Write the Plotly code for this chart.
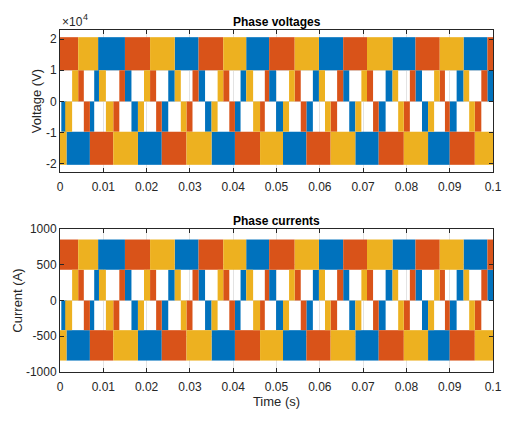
import plotly.graph_objects as go
from plotly.subplots import make_subplots

# phase a = blue, b = orange, c = yellow (MATLAB default order)
colors = {'a': '#0072BD', 'b': '#D95319', 'c': '#EDB120'}

# band edges in seconds
top_edges = [0, 0.0042, 0.0088, 0.0150, 0.0208, 0.0265, 0.0320, 0.0377, 0.0430, 0.0483,
             0.0542, 0.0598, 0.0654, 0.0709, 0.0768, 0.0821, 0.0877, 0.0932, 0.0987, 0.1]
top_phase = ['b', 'c', 'a', 'b', 'c', 'a', 'b', 'c', 'a', 'b',
             'c', 'a', 'b', 'c', 'a', 'b', 'c', 'a', 'b']

bot_edges = [0, 0.0015, 0.0069, 0.0123, 0.0180, 0.0235, 0.0292, 0.0350, 0.0404, 0.0462,
             0.0515, 0.0569, 0.0625, 0.0682, 0.0736, 0.0794, 0.0850, 0.0900, 0.0958, 0.1]
bot_phase = ['c', 'a', 'b', 'c', 'a', 'b', 'c', 'a', 'b', 'c',
             'a', 'b', 'c', 'a', 'b', 'c', 'a', 'b', 'c']

# middle bands (between 0 and the inner level)
a_upper = [(0.0079, 0.0090), (0.0150, 0.0165), (0.0250, 0.0265), (0.0320, 0.0335),
           (0.0417, 0.0430), (0.0483, 0.0499), (0.0584, 0.0598), (0.0654, 0.0668),
           (0.0752, 0.0768), (0.0821, 0.0836), (0.0916, 0.0932), (0.0987, 0.1)]
a_lower = [(0.0003, 0.0015), (0.0069, 0.0079), (0.0165, 0.0180), (0.0235, 0.0250),
           (0.0335, 0.0350), (0.0404, 0.0417), (0.0499, 0.0515), (0.0569, 0.0584),
           (0.0668, 0.0682), (0.0736, 0.0752), (0.0836, 0.0850), (0.0900, 0.0916)]
b_upper = [(0.0042, 0.0055), (0.0137, 0.0150), (0.0208, 0.0222), (0.0306, 0.0320),
           (0.0377, 0.0391), (0.0473, 0.0483), (0.0542, 0.0556), (0.0640, 0.0654),
           (0.0709, 0.0723), (0.0808, 0.0821), (0.0877, 0.0889), (0.0973, 0.0987)]
b_lower = [(0.0055, 0.0069), (0.0123, 0.0137), (0.0222, 0.0235), (0.0292, 0.0306),
           (0.0391, 0.0404), (0.0462, 0.0473), (0.0556, 0.0569), (0.0625, 0.0640),
           (0.0723, 0.0736), (0.0794, 0.0808), (0.0889, 0.0900), (0.0958, 0.0973)]
c_upper = [(0.0028, 0.0042), (0.0090, 0.0106), (0.0194, 0.0208), (0.0265, 0.0279),
           (0.0364, 0.0377), (0.0430, 0.0446), (0.0529, 0.0542), (0.0598, 0.0612),
           (0.0696, 0.0709), (0.0768, 0.0781), (0.0864, 0.0877), (0.0932, 0.0945)]
c_lower = [(0.0012, 0.0028), (0.0106, 0.0123), (0.0180, 0.0194), (0.0279, 0.0292),
           (0.0350, 0.0364), (0.0446, 0.0462), (0.0515, 0.0529), (0.0612, 0.0625),
           (0.0682, 0.0696), (0.0781, 0.0794), (0.0850, 0.0864), (0.0945, 0.0958)]

# band levels: outer low, inner low, zero, inner high, outer high
volt_levels = [-2.03e4, -0.97e4, 0, 1.0e4, 2.06e4]
curr_levels = [-840, -415, 0, 430, 853]

x_ticks = [0, 0.01, 0.02, 0.03, 0.04, 0.05, 0.06, 0.07, 0.08, 0.09, 0.1]
x_labels = ['0', '0.01', '0.02', '0.03', '0.04', '0.05', '0.06', '0.07', '0.08', '0.09', '0.1']
v_ticks = [-2e4, -1e4, 0, 1e4, 2e4]
v_labels = ['-2', '-1', '0', '1', '2']
i_ticks = [-1000, -500, 0, 500, 1000]
i_labels = ['-1000', '-500', '0', '500', '1000']

middle = {'a': (a_upper, a_lower), 'b': (b_upper, b_lower), 'c': (c_upper, c_lower)}


def phase_blocks(p, lv):
    blocks = []
    for i, ph in enumerate(top_phase):
        if ph == p:
            blocks.append((top_edges[i], top_edges[i + 1], lv[3], lv[4]))
    for i, ph in enumerate(bot_phase):
        if ph == p:
            blocks.append((bot_edges[i], bot_edges[i + 1], lv[0], lv[1]))
    up, low = middle[p]
    for t0, t1 in up:
        blocks.append((t0, t1, lv[2], lv[3]))
    for t0, t1 in low:
        blocks.append((t0, t1, lv[1], lv[2]))
    return blocks


fig = make_subplots(rows=2, cols=1, vertical_spacing=0.1667)

for row, lv in [(1, volt_levels), (2, curr_levels)]:
    for p in ['a', 'b', 'c']:
        bl = phase_blocks(p, lv)
        fig.add_trace(go.Bar(
            x=[(b[0] + b[1]) / 2 for b in bl],
            width=[b[1] - b[0] for b in bl],
            base=[b[2] for b in bl],
            y=[b[3] - b[2] for b in bl],
            marker=dict(color=colors[p], line=dict(width=0)),
            showlegend=False, hoverinfo='skip'), row=row, col=1)

axis_style = dict(showline=True, linecolor='#262626', linewidth=1, mirror='ticks',
                  ticks='inside', ticklen=4, tickcolor='#262626', showgrid=True,
                  gridcolor='#e3e3e3', zeroline=False, automargin=False,
                  tickfont=dict(size=12, color='#262626'))
title_font = dict(size=13, color='#262626')

fig.update_xaxes(range=[0, 0.1], tickvals=x_ticks, ticktext=x_labels,
                 ticklabelstandoff=4, **axis_style)
fig.update_yaxes(**axis_style)
fig.update_yaxes(range=[-2.26e4, 2.29e4], tickvals=v_ticks, ticktext=v_labels,
                 title=dict(text='Voltage (V)', font=title_font, standoff=1),
                 row=1, col=1)
fig.update_yaxes(range=[-1000, 1000], tickvals=i_ticks, ticktext=i_labels,
                 title=dict(text='Current (A)', font=title_font, standoff=0),
                 row=2, col=1)
fig.update_xaxes(title=dict(text='Time (s)', font=title_font, standoff=3),
                 row=2, col=1)
fig.update_layout(xaxis=dict(domain=[0, 1]), yaxis=dict(domain=[0.5848, 1.0]),
                  xaxis2=dict(domain=[0, 1]), yaxis2=dict(domain=[0, 0.4181]))

fig.add_annotation(text='<b>Phase voltages</b>', xref='paper', yref='paper', x=0.5, y=1.0,
                   xanchor='center', yanchor='bottom', yshift=-1, showarrow=False,
                   font=dict(size=12, color='black'))
fig.add_annotation(text='<b>Phase currents</b>', xref='paper', yref='paper', x=0.5, y=0.4181,
                   xanchor='center', yanchor='bottom', yshift=-1, showarrow=False,
                   font=dict(size=12, color='black'))
fig.add_annotation(text='×10', xref='paper', yref='paper', x=0.0, y=1.0,
                   xanchor='left', yanchor='bottom', yshift=-1, showarrow=False,
                   font=dict(size=12, color='#262626'))
fig.add_annotation(text='4', xref='paper', yref='paper', x=0.0, y=1.0,
                   xanchor='left', yanchor='bottom', xshift=21, yshift=6, showarrow=False,
                   font=dict(size=9, color='#262626'))

fig.update_layout(width=522, height=423, barmode='overlay',
                  margin=dict(l=60, r=29, t=30, b=51),
                  plot_bgcolor='white', paper_bgcolor='white',
                  font=dict(family='Liberation Sans, Arial, sans-serif'))

fig.write_html("out.html", config={'displayModeBar': False},
               post_script="document.body.style.margin='0px';")
